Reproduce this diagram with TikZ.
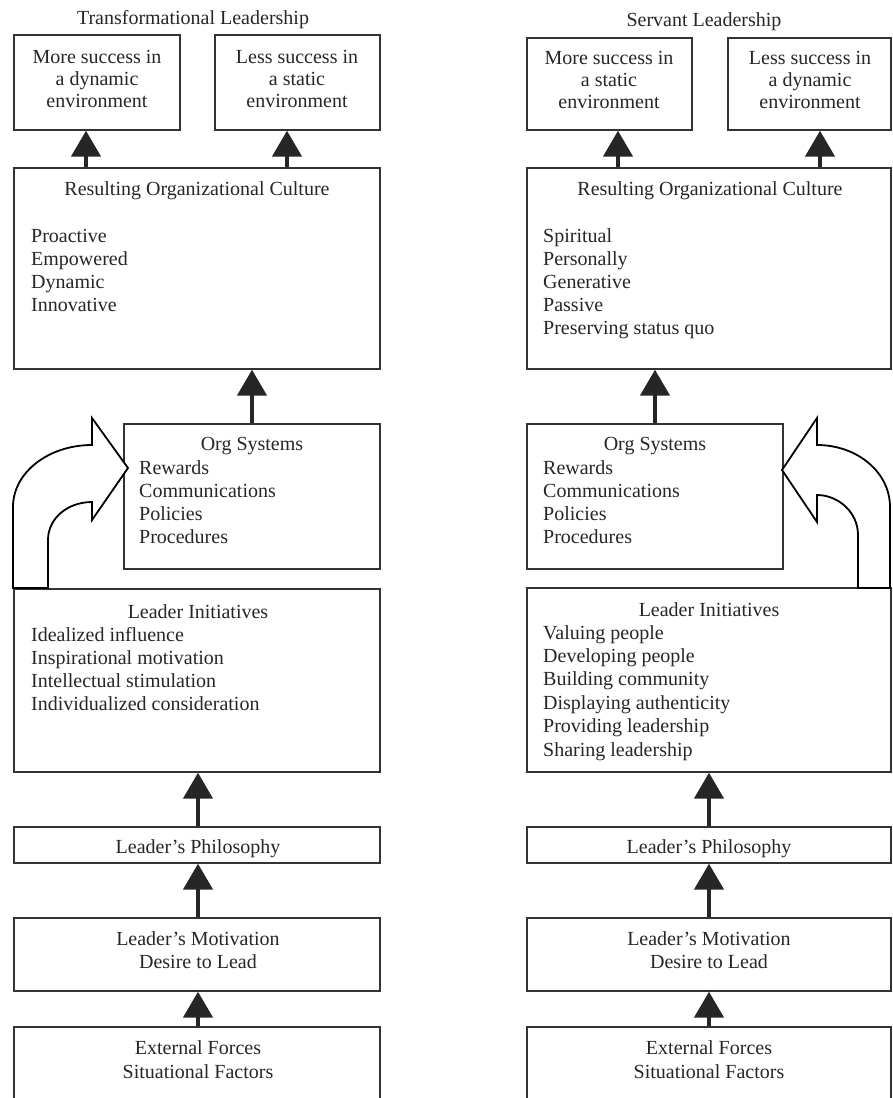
\documentclass[tikz,border=0pt]{standalone}
\usepackage{fontspec}
\setmainfont{Liberation Serif}
\usetikzlibrary{arrows.meta,fit}
\begin{document}
\begin{tikzpicture}[x=1pt,y=-1pt,
  box/.style={draw=black!80, line width=1.3pt, inner sep=0pt, fit={#1}},
  txt/.style={font=\fontsize{20}{23}\selectfont, inner sep=0pt, text=black!85},
  uparrow/.style={line width=4.5pt, draw=black!85, -{Triangle[width=29pt,length=26pt]}},
  hollow/.style={draw=black, line width=1.8pt, fill=white, line join=miter}]
\useasboundingbox (0,0) rectangle (893,1098);
\clip (0,0) rectangle (893,1098);

% ---------- titles
\node[txt, anchor=base] (tL) at (193,24) {Transformational Leadership};
\node[txt, anchor=base] (tR) at (704,26) {Servant Leadership};

% ---------- left column boxes
\node[box={(14,35) (180,130)}] (A1) {};
\node[box={(215,35) (380,130)}] (A2) {};
\node[box={(14,168) (380,369)}] (CultL) {};
\node[box={(124,424) (380,569)}] (OrgL) {};
\node[box={(14,589) (380,772)}] (InitL) {};
\node[box={(14,827) (380,863)}] (PhilL) {};
\node[box={(14,918) (380,991)}] (MotL) {};
\node[box={(14,1027) (380,1130)}] (ExtL) {};

% ---------- right column boxes
\node[box={(527,38) (692,130)}] (B1) {};
\node[box={(728,38) (891,130)}] (B2) {};
\node[box={(527,168) (891,369)}] (CultR) {};
\node[box={(527,424) (783,569)}] (OrgR) {};
\node[box={(527,588) (891,772)}] (InitR) {};
\node[box={(527,827) (891,863)}] (PhilR) {};
\node[box={(527,918) (891,991)}] (MotR) {};
\node[box={(527,1027) (891,1130)}] (ExtR) {};

% ---------- texts, left
\foreach \t [count=\i] in {More success in, a dynamic, environment}
  \node[txt, anchor=base] (a1t\i) at (97,{63+22*(\i-1)}) {\t};
\foreach \t [count=\i] in {Less success in, a static, environment}
  \node[txt, anchor=base] (a2t\i) at (297,{63+22*(\i-1)}) {\t};
\node[txt, anchor=base] (cLt) at (197,195) {Resulting Organizational Culture};
\foreach \t [count=\i] in {Proactive, Empowered, Dynamic, Innovative}
  \node[txt, anchor=base west] (cLi\i) at (31,{242+23*(\i-1)}) {\t};
\node[txt, anchor=base] (oLt) at (252,450) {Org Systems};
\foreach \t [count=\i] in {Rewards, Communications, Policies, Procedures}
  \node[txt, anchor=base west] (oLi\i) at (139,{474+23*(\i-1)}) {\t};
\node[txt, anchor=base] (iLt) at (198,618) {Leader Initiatives};
\foreach \t [count=\i] in {Idealized influence, Inspirational motivation, Intellectual stimulation, Individualized consideration}
  \node[txt, anchor=base west] (iLi\i) at (31,{641+23.3*(\i-1)}) {\t};
\node[txt, anchor=base] (pLt) at (198,853) {Leader's Philosophy};
\node[txt, anchor=base] (mLt1) at (198,945) {Leader's Motivation};
\node[txt, anchor=base] (mLt2) at (198,968) {Desire to Lead};
\node[txt, anchor=base] (eLt1) at (198,1054) {External Forces};
\node[txt, anchor=base] (eLt2) at (198,1078) {Situational Factors};

% ---------- texts, right
\foreach \t [count=\i] in {More success in, a static, environment}
  \node[txt, anchor=base] (b1t\i) at (609,{64+22*(\i-1)}) {\t};
\foreach \t [count=\i] in {Less success in, a dynamic, environment}
  \node[txt, anchor=base] (b2t\i) at (810,{64+22*(\i-1)}) {\t};
\node[txt, anchor=base] (cRt) at (710,195) {Resulting Organizational Culture};
\foreach \t [count=\i] in {Spiritual, Personally, Generative, Passive, Preserving status quo}
  \node[txt, anchor=base west] (cRi\i) at (543,{242+23*(\i-1)}) {\t};
\node[txt, anchor=base] (oRt) at (655,450) {Org Systems};
\foreach \t [count=\i] in {Rewards, Communications, Policies, Procedures}
  \node[txt, anchor=base west] (oRi\i) at (543,{474+23*(\i-1)}) {\t};
\node[txt, anchor=base] (iRt) at (709,616) {Leader Initiatives};
\foreach \t [count=\i] in {Valuing people, Developing people, Building community, Displaying authenticity, Providing leadership, Sharing leadership}
  \node[txt, anchor=base west] (iRi\i) at (543,{639+23.4*(\i-1)}) {\t};
\node[txt, anchor=base] (pRt) at (709,853) {Leader's Philosophy};
\node[txt, anchor=base] (mRt1) at (709,945) {Leader's Motivation};
\node[txt, anchor=base] (mRt2) at (709,968) {Desire to Lead};
\node[txt, anchor=base] (eRt1) at (709,1054) {External Forces};
\node[txt, anchor=base] (eRt2) at (709,1078) {Situational Factors};

% ---------- arrow x positions
\coordinate (xa1) at (86,0);
\coordinate (xa2) at (287,0);
\coordinate (xoL) at (252,0);
\coordinate (xL) at (198,0);
\coordinate (xb1) at (618,0);
\coordinate (xb2) at (820,0);
\coordinate (xoR) at (655,0);
\coordinate (xR) at (709,0);

% ---------- straight arrows, left
\draw[uparrow] (CultL.north -| xa1) -- (A1.south -| xa1);
\draw[uparrow] (CultL.north -| xa2) -- (A2.south -| xa2);
\draw[uparrow] (OrgL.north -| xoL) -- (CultL.south -| xoL);
\draw[uparrow] (PhilL.north -| xL) -- (InitL.south -| xL);
\draw[uparrow] (MotL.north -| xL) -- (PhilL.south -| xL);
\draw[uparrow] (ExtL.north -| xL) -- (MotL.south -| xL);

% ---------- straight arrows, right
\draw[uparrow] (CultR.north -| xb1) -- (B1.south -| xb1);
\draw[uparrow] (CultR.north -| xb2) -- (B2.south -| xb2);
\draw[uparrow] (OrgR.north -| xoR) -- (CultR.south -| xoR);
\draw[uparrow] (PhilR.north -| xR) -- (InitR.south -| xR);
\draw[uparrow] (MotR.north -| xR) -- (PhilR.south -| xR);
\draw[uparrow] (ExtR.north -| xR) -- (MotR.south -| xR);

% ---------- hollow curved arrows
\draw[hollow] (13,588) -- (13,507) .. controls (13,472) and (49,445) .. (92,445)
  -- (92,418) -- (128,468) -- (92,520) -- (92,502)
  .. controls (68,502) and (48,518) .. (48,540) -- (48,588) -- cycle;
\draw[hollow] (890,588) -- (890,507) .. controls (890,472) and (857,445) .. (817,445)
  -- (817,418) -- (782,470) -- (817,522) -- (817,495)
  .. controls (838,495) and (858,512) .. (858,535) -- (858,588) -- cycle;
\end{tikzpicture}
\end{document}
